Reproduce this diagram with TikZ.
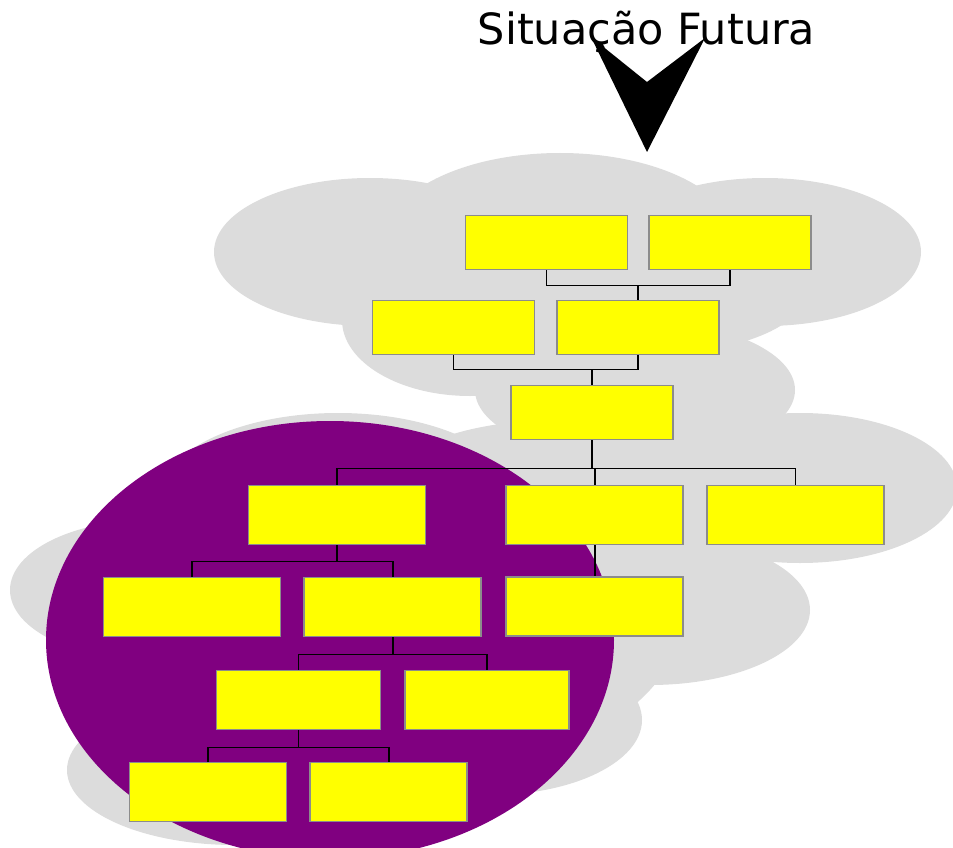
\documentclass[tikz,border=0pt]{standalone}
\usepackage{fontspec}
\newfontfamily\titlefont{DejaVu Sans}
\usetikzlibrary{positioning}
\definecolor{cloudgrey}{HTML}{DCDCDC}
\definecolor{chartyellow}{HTML}{FFFF00}
\definecolor{chartedge}{HTML}{8C8C8C}
\definecolor{focuspurple}{HTML}{800080}

\begin{document}
\begin{tikzpicture}[x=1pt, y=-1pt]
\tikzstyle{unit} = [rectangle, minimum width=162pt, minimum height=54pt, inner sep=0pt, draw=chartedge, fill=chartyellow, line width=1.8pt]
\tikzstyle{wideunit} = [unit, minimum width=177pt, minimum height=59pt]
\tikzstyle{link} = [draw=black, line width=1.7pt]

\useasboundingbox (0,0) rectangle (953,848);

% upper cloud
\foreach \cx/\cy/\rx/\ry in {370/252/156/74, 560/240/175/87, 765/252/156/74, 470/320/128/76, 635/390/160/70, 600/300/200/60}
    \fill[cloudgrey] (\cx,\cy) ellipse [x radius=\rx pt, y radius=\ry pt];

% lower cloud
\foreach \cx/\cy/\rx/\ry in {338/500/180/87, 560/475/160/55, 150/590/140/70, 235/770/168/75, 800/488/157/75, 650/610/160/75, 490/720/152/75, 420/620/260/150}
    \fill[cloudgrey] (\cx,\cy) ellipse [x radius=\rx pt, y radius=\ry pt];

\fill[focuspurple] (330,640) ellipse [x radius=284pt, y radius=219pt];

% boxes
\node (a1) [unit] at (546.5,242.5) {};
\node (a2) [unit, right=20pt of a1] {};
\node (b1) [unit] at (453.5,327.5) {};
\node (b2) [unit, right=21pt of b1] {};
\node (hub) [unit] at (592,412.5) {};
\node (c1) [wideunit] at (337,515) {};
\node (c2) [wideunit, right=79pt of c1] {};
\node (c3) [wideunit, right=22pt of c2] {};
\node (d1) [wideunit] at (192,607) {};
\node (d2) [wideunit, right=22pt of d1] {};
\node (d3) [wideunit, below=31pt of c2] {};
\node (e1) [wideunit, minimum width=164pt] at (298.5,700) {};
\node (e2) [wideunit, minimum width=164pt, right=23pt of e1] {};
\node (f1) [wideunit, minimum width=157pt] at (208,792) {};
\node (f2) [wideunit, minimum width=157pt, right=22pt of f1] {};

% Draw links
\foreach \upper/\lower/\drop in {a1/b2/15, a2/b2/15, b1/hub/14, b2/hub/14, hub/c1/28, hub/c2/28, hub/c3/28, c1/d1/16, c1/d2/16, d2/e1/17, d2/e2/17, e1/f1/17, e1/f2/17}
    \draw[link] (\upper.south) -- ++(0,\drop) -| (\lower.north);
\draw[link] (c2.south) -- (d3.north);

% title and arrow
\node (title) [anchor=base, font=\titlefont\fontsize{43}{50}\selectfont] at (646.5,45) {Situação Futura};
\fill[black] (591,37) -- (647,82) -- (705,38) -- (647,152) -- cycle;

\end{tikzpicture}
\end{document}
